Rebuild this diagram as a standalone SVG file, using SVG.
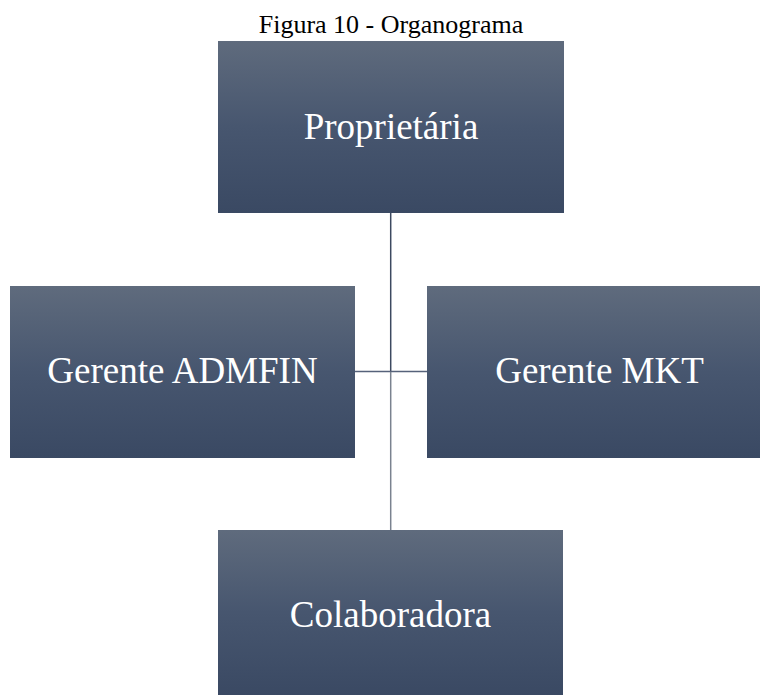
<svg xmlns="http://www.w3.org/2000/svg" width="760" height="695" viewBox="0 0 760 695">
  <defs>
    <linearGradient id="boxGrad" x1="0" y1="0" x2="0" y2="1">
      <stop offset="0" stop-color="#5f6b7d"/>
      <stop offset="0.5" stop-color="#47566f"/>
      <stop offset="1" stop-color="#3a4963"/>
    </linearGradient>
  </defs>
  <style>
    .box { fill: url(#boxGrad); }
    .label { font-family: "Liberation Serif", "Times New Roman", serif; font-size: 37px; fill: #ffffff; text-anchor: middle; }
    .title { font-family: "Liberation Serif", "Times New Roman", serif; font-size: 26px; fill: #000000; text-anchor: middle; }
  </style>
  <rect width="760" height="695" fill="#ffffff"/>
  <text class="title" x="391" y="33">Figura 10 - Organograma</text>
  <g id="connectors" fill="none" stroke-width="1.5">
    <line x1="390.7" y1="213" x2="390.7" y2="372" stroke="#3c4960"/>
    <line x1="355" y1="371.5" x2="427" y2="371.5" stroke="#56627a"/>
    <line x1="390.7" y1="372" x2="390.7" y2="530" stroke="#7a828f"/>
  </g>
  <g id="node-proprietaria">
    <rect class="box" x="218" y="41" width="346" height="172"/>
    <text class="label" x="391" y="139">Proprietária</text>
  </g>
  <g id="node-admfin">
    <rect class="box" x="10" y="286" width="345" height="172"/>
    <text class="label" x="182.5" y="383">Gerente ADMFIN</text>
  </g>
  <g id="node-mkt">
    <rect class="box" x="427" y="286" width="345" height="172"/>
    <text class="label" x="599.5" y="383">Gerente MKT</text>
  </g>
  <g id="node-colaboradora">
    <rect class="box" x="218" y="530" width="345" height="165"/>
    <text class="label" x="390.5" y="627">Colaboradora</text>
  </g>
</svg>
